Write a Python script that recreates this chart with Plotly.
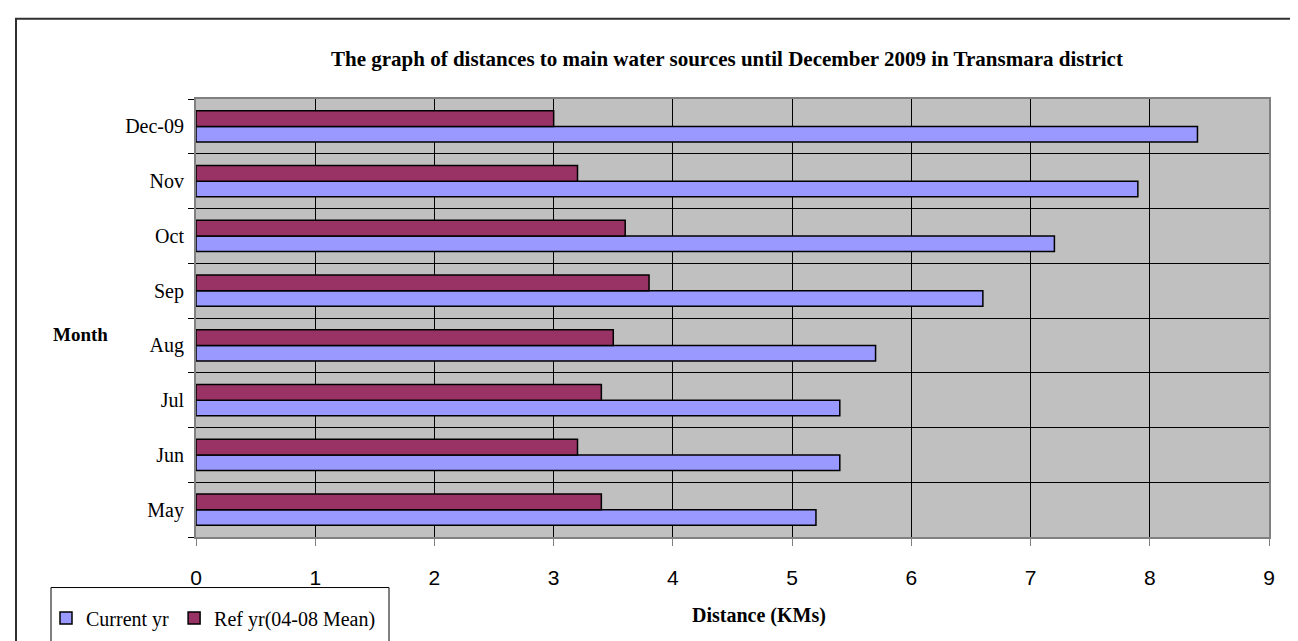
import plotly.graph_objects as go

months = ["May", "Jun", "Jul", "Aug", "Sep", "Oct", "Nov", "Dec-09"]
current_yr = [5.2, 5.4, 5.4, 5.7, 6.6, 7.2, 7.9, 8.4]
ref_yr = [3.4, 3.2, 3.4, 3.5, 3.8, 3.6, 3.2, 3.0]
x_ticks = [0, 1, 2, 3, 4, 5, 6, 7, 8, 9]

W, H = 1298, 641
L, R, T, B = 188, 37, 91, 108
PW, PH = W - L - R, H - T - B


def px(x):
    return (x - L) / PW


def py(y):
    return (H - B - y) / PH


serif = "Liberation Serif, Times New Roman, serif"
sans = "Liberation Sans, Arial, sans-serif"

fig = go.Figure()
fig.add_trace(go.Bar(
    y=months, x=current_yr, orientation="h", name="Current yr",
    marker=dict(color="#9999FF", line=dict(color="black", width=1.5)),
))
fig.add_trace(go.Bar(
    y=months, x=ref_yr, orientation="h", name="Ref yr(04-08 Mean)",
    marker=dict(color="#993366", line=dict(color="black", width=1.5)),
))

fig.update_layout(
    width=W, height=H,
    margin=dict(l=L, r=R, t=T, b=B),
    paper_bgcolor="white",
    plot_bgcolor="#C0C0C0",
    barmode="group",
    bargap=0.433,
    bargroupgap=0,
    showlegend=True,
    legend=dict(
        orientation="h",
        x=px(38), y=py(595), xanchor="left", yanchor="top",
        font=dict(family=serif, size=20, color="black"),
        bgcolor="rgba(0,0,0,0)",
        traceorder="normal",
        itemwidth=30,
    ),
    xaxis=dict(
        range=[0, 9], tickvals=x_ticks, ticktext=[str(v) for v in x_ticks],
        showgrid=True, gridcolor="black", gridwidth=1,
        zeroline=False,
        showline=True, linecolor="#808080", linewidth=2, mirror=True,
        ticks="outside", ticklen=7, tickcolor="#808080", tickwidth=1,
        tickfont=dict(family=sans, size=21, color="black"),
        ticklabelstandoff=14,
    ),
    yaxis=dict(
        type="category", categoryorder="array", categoryarray=months,
        tickson="boundaries",
        showgrid=True, gridcolor="black", gridwidth=1,
        showline=True, linecolor="#808080", linewidth=2, mirror=True,
        ticks="outside", ticklen=6, tickcolor="black", tickwidth=1,
        tickfont=dict(family=serif, size=20, color="black"),
        ticklabelstandoff=6,
    ),
    shapes=[
        dict(type="rect", xref="paper", yref="paper",
             x0=px(8), x1=px(1302), y0=py(652), y1=py(10),
             line=dict(color="#303030", width=2), fillcolor="rgba(0,0,0,0)",
             layer="below"),
        dict(type="rect", xref="paper", yref="paper",
             x0=px(43), x1=px(381), y0=py(652), y1=py(584),
             line=dict(color="black", width=1), fillcolor="rgba(0,0,0,0)"),
    ],
    annotations=[
        dict(text="<b>The graph of distances to main water sources until December 2009 in Transmara district</b>",
             xref="paper", yref="paper", x=px(718.5), y=py(51),
             xanchor="center", yanchor="middle", showarrow=False,
             font=dict(family=serif, size=21, color="black")),
        dict(text="<b>Month</b>", xref="paper", yref="paper",
             x=px(72), y=py(329), xanchor="center", yanchor="middle",
             showarrow=False, font=dict(family=serif, size=19, color="black")),
        dict(text="<b>Distance (KMs)</b>", xref="paper", yref="paper",
             x=px(751), y=py(612), xanchor="center", yanchor="middle",
             showarrow=False, font=dict(family=serif, size=20, color="black")),
    ],
)

fig.write_html("out.html")
